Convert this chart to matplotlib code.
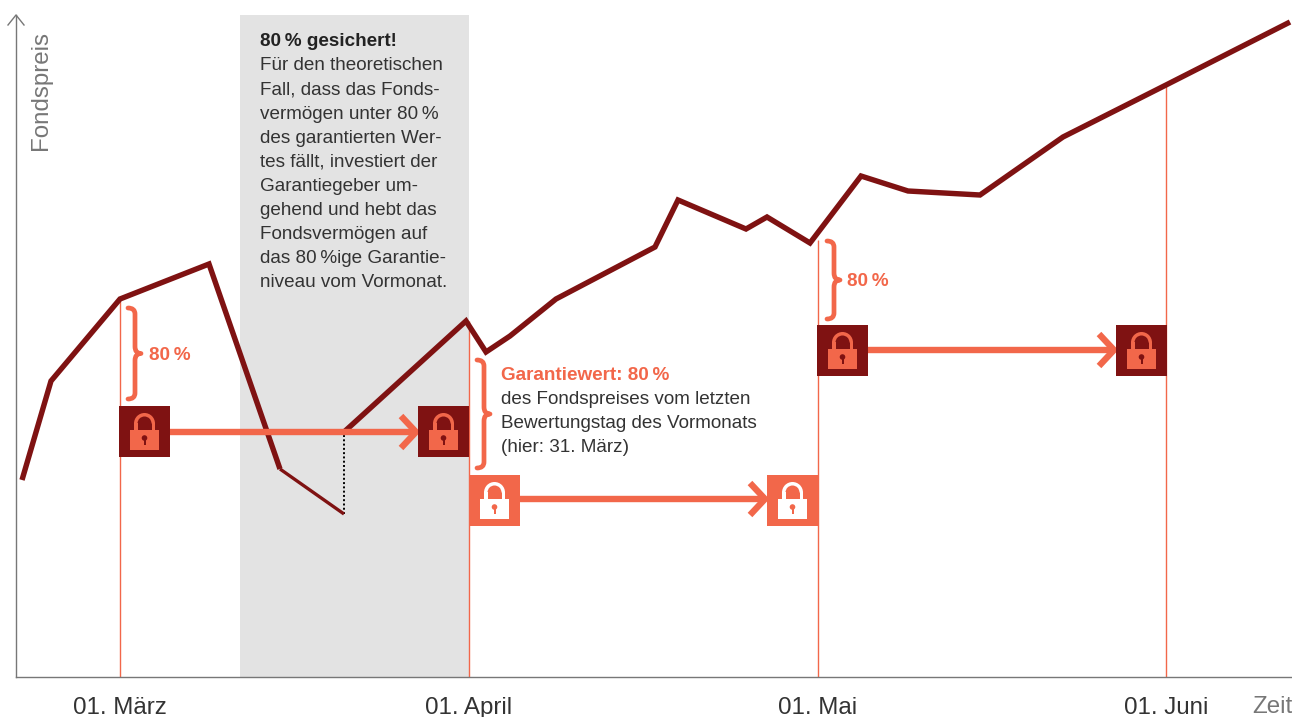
import numpy as np
import matplotlib
matplotlib.use("Agg")
import matplotlib.pyplot as plt
from matplotlib.patches import Rectangle, PathPatch, Wedge, Circle
from matplotlib.path import Path

plt.rcParams["font.family"] = ["Liberation Sans", "DejaVu Sans"]

# Farben
DARK = "#7F1212"
CORAL = "#F2674A"
GREY = "#777777"
TEXT = "#333333"
BOX = "#E3E3E3"

# Werte aus dem Bild (x = Zeitachse, y = Fondspreis ueber der Nulllinie)
before_x = [22, 51, 120, 209, 280]
before_y = [197, 296, 378, 413, 208]
drop_x = [280, 344]
drop_y = [208, 163]
after_x = [344, 466, 486, 510, 556, 655, 678, 746, 767, 810, 861, 908, 980, 1063, 1166, 1290]
after_y = [245, 356, 325, 341, 378, 430, 477, 448, 460, 434, 501, 486, 482, 540, 592, 655]

month_x = [120, 469, 818, 1166]
month_labels = ["01. März", "01. April", "01. Mai", "01. Juni"]
month_top = [378, 356, 437, 592]

# Sicherungsniveau je Monat: von, bis, Hoehe
lock_from = [170, 520, 868]
lock_to = [416, 765, 1114]
lock_y = [245, 178, 327]

box_lines = [
    "Für den theoretischen", "Fall, dass das Fonds-", "vermögen unter 80\u2009%",
    "des garantierten Wer-", "tes fällt, investiert der", "Garantiegeber um-",
    "gehend und hebt das", "Fondsvermögen auf", "das 80\u2009%ige Garantie-",
    "niveau vom Vormonat.",
]
note_lines = ["des Fondspreises vom letzten", "Bewertungstag des Vormonats", "(hier: 31. März)"]

W, H = 1292, 717
TOP, BOTTOM, LEFT = 15, 677, 16
FS = 13.55
FS_AXIS = 17.4

fig = plt.figure(figsize=(W / 100, H / 100), dpi=100)
ax = fig.add_axes([LEFT / W, (H - BOTTOM) / H, (W - LEFT) / W, (BOTTOM - TOP) / H])
ax.set_xlim(LEFT, W)
ax.set_ylim(0, BOTTOM - TOP)
for s in ["top", "right"]:
    ax.spines[s].set_visible(False)
for s in ["left", "bottom"]:
    ax.spines[s].set_color(GREY)
    ax.spines[s].set_linewidth(1.0)
ax.set_yticks([])
ax.set_xticks(month_x, month_labels, fontsize=FS_AXIS, color=TEXT)
ax.tick_params(axis="x", length=0, pad=14.5)


def y_px(py):
    # Pixelzeile oben gezaehlt -> Datenwert
    return BOTTOM - py


def draw_lock(x0, y0, bg, fg):
    # x0 = linke Kante, y0 = untere Kante, Quadrat 51 px
    ax.add_patch(Rectangle((x0, y0), 51, 51, fc=bg, ec="none", zorder=5))
    cx = x0 + 25.5
    ax.add_patch(Rectangle((cx - 14.5, y0 + 7), 29, 20, fc=fg, ec="none", zorder=6))
    ax.add_patch(Rectangle((cx - 10.5, y0 + 26), 3.5, 8, fc=fg, ec="none", zorder=6))
    ax.add_patch(Rectangle((cx + 7, y0 + 26), 3.5, 8, fc=fg, ec="none", zorder=6))
    ax.add_patch(Wedge((cx, y0 + 33.5), 10.5, 0, 180, width=3.5, fc=fg, ec="none", zorder=6))
    ax.add_patch(Circle((cx, y0 + 19), 2.8, fc=bg, ec="none", zorder=7))
    ax.add_patch(Rectangle((cx - 1, y0 + 12), 2, 6, fc=bg, ec="none", zorder=7))


def draw_brace(x, top, bottom):
    # geschweifte Klammer, Spitze nach rechts
    mid = (top + bottom) / 2
    s = x + 7
    verts = [
        (x, top), (s, top), (s, top + 6),
        (s, mid - 7),
        (s, mid), (s + 6, mid),
        (s, mid), (s, mid + 7),
        (s, bottom - 6),
        (s, bottom), (x, bottom),
    ]
    verts = [(a, y_px(b)) for a, b in verts]
    codes = [Path.MOVETO, Path.CURVE3, Path.CURVE3, Path.LINETO, Path.CURVE3, Path.CURVE3,
             Path.CURVE3, Path.CURVE3, Path.LINETO, Path.CURVE3, Path.CURVE3]
    ax.add_patch(PathPatch(Path(verts, codes), fc="none", ec=CORAL, lw=3.4, capstyle="round",
                           joinstyle="round", zorder=4))


# grauer Kasten
ax.add_patch(Rectangle((240, 0), 469 - 240, BOTTOM - TOP, fc=BOX, ec="none", zorder=0))

# Monatslinien
ax.vlines(month_x, 0, month_top, color=CORAL, lw=1.0, zorder=1)

# Fondspreis
ax.plot(before_x, before_y, color=DARK, lw=3.9, solid_joinstyle="miter", solid_capstyle="butt", zorder=3)
ax.plot(drop_x, drop_y, color=DARK, lw=2.4, solid_capstyle="butt", zorder=3)
ax.plot(after_x, after_y, color=DARK, lw=3.9, solid_joinstyle="miter", solid_capstyle="butt", zorder=3)
ax.plot([drop_x[1], after_x[0]], [drop_y[1], after_y[0]], color="black", lw=1.4, ls=(0, (1, 1.2)), zorder=2)

# Pfeile
for x0, x1, y in zip(lock_from, lock_to, lock_y):
    ax.plot([x0, x1], [y, y], color=CORAL, lw=4.6, solid_capstyle="butt", zorder=4)
    ax.plot([x1 - 15, x1, x1 - 15], [y + 16, y, y - 16], color=CORAL, lw=4.6,
            solid_joinstyle="miter", solid_capstyle="butt", zorder=4)

# Schloesser
draw_lock(119, y_px(457), DARK, CORAL)
draw_lock(418, y_px(457), DARK, CORAL)
draw_lock(469, y_px(526), CORAL, "white")
draw_lock(767, y_px(526), CORAL, "white")
draw_lock(817, y_px(376), DARK, CORAL)
draw_lock(1116, y_px(376), DARK, CORAL)

# Klammern
draw_brace(128, 308, 399)
draw_brace(477, 360, 468)
draw_brace(827, 241, 319)

# Texte
ax.text(149, y_px(355), "80\u2009%", color=CORAL, fontsize=FS, fontweight="bold", va="center")
ax.text(847, y_px(281), "80\u2009%", color=CORAL, fontsize=FS, fontweight="bold", va="center")
ax.text(260, y_px(42), "80\u2009% gesichert!", color="#222222", fontsize=FS, fontweight="bold", va="center")
for i, line in enumerate(box_lines):
    ax.text(260, y_px(66 + i * 24.1), line, color=TEXT, fontsize=FS, va="center")
ax.text(501, y_px(376), "Garantiewert: 80\u2009%", color=CORAL, fontsize=FS, fontweight="bold", va="center")
for i, line in enumerate(note_lines):
    ax.text(501, y_px(400 + i * 24), line, color=TEXT, fontsize=FS, va="center")

# Achsen-Beschriftung
ax.plot([LEFT - 8, LEFT, LEFT + 8], [y_px(25), y_px(15), y_px(25)], color=GREY, lw=1.0, clip_on=False, zorder=6)
ax.text(41, y_px(90), "Fondspreis", color=GREY, fontsize=FS_AXIS, rotation=90, va="center", ha="center")
ax.text(1272, y_px(707), "Zeit", color=GREY, fontsize=FS_AXIS, va="center", ha="center", clip_on=False)

fig.savefig("out.png", dpi=100)
